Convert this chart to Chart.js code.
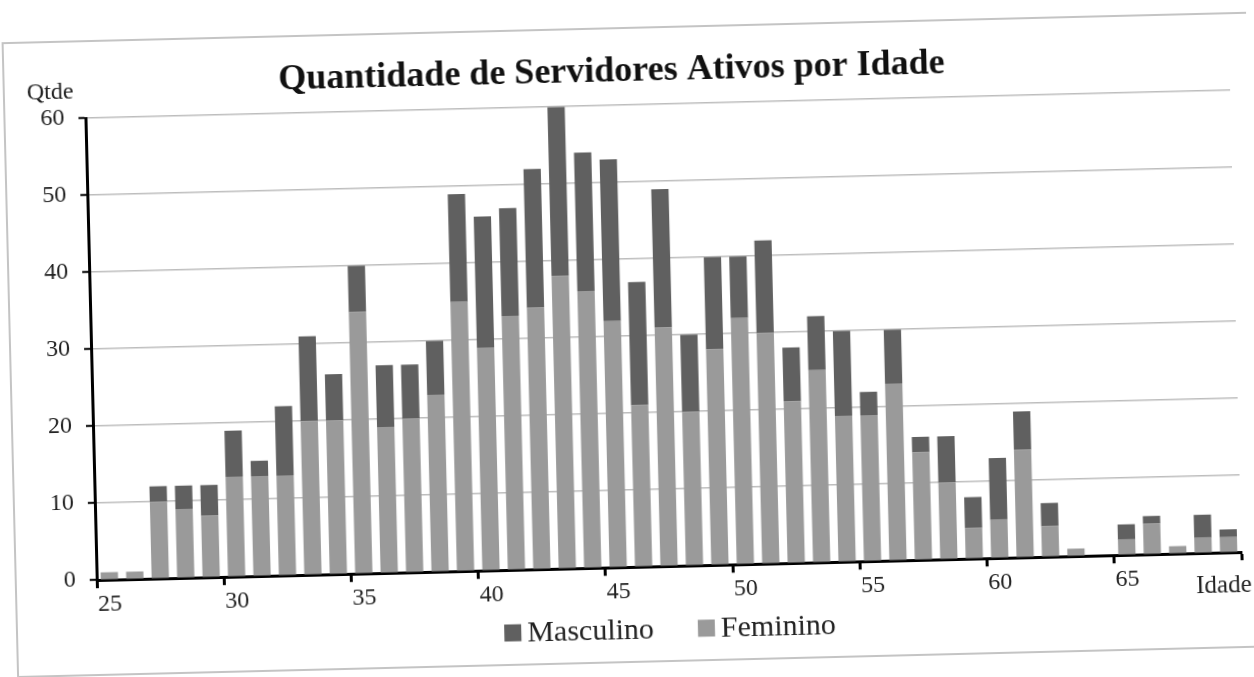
<!DOCTYPE html>
<html>
<head>
<meta charset="utf-8">
<script src="https://cdn.jsdelivr.net/npm/chart.js@4.4.1/dist/chart.umd.min.js"></script>
<style>
  html, body { margin: 0; padding: 0; background: #fff; overflow: hidden; }
  #wrap { width: 1254px; height: 677px; transform: rotate(-1.4deg); transform-origin: 50% 50%; }
</style>
</head>
<body>
<div id="wrap"><canvas id="myChart" width="1254" height="677"></canvas></div>
<script>
(() => {
  'use strict'

  // Idade 25..69
  const ages = [25, 26, 27, 28, 29, 30, 31, 32, 33, 34, 35, 36, 37, 38, 39,
                40, 41, 42, 43, 44, 45, 46, 47, 48, 49, 50, 51, 52, 53, 54,
                55, 56, 57, 58, 59, 60, 61, 62, 63, 64, 65, 66, 67, 68, 69];
  const feminino = [1, 1, 10, 9, 8, 13, 13, 13, 20, 20, 34, 19, 20, 23, 35,
                    29, 33, 34, 38, 36, 32, 21, 31, 20, 28, 32, 30, 21, 25, 19,
                    19, 23, 14, 10, 4, 5, 14, 4, 1, 0, 2, 4, 1, 2, 2];
  const masculino = [0, 0, 2, 3, 4, 6, 2, 9, 11, 6, 6, 8, 7, 7, 14,
                     17, 14, 18, 22, 18, 21, 16, 18, 10, 12, 8, 12, 7, 7, 11,
                     3, 7, 2, 6, 4, 8, 5, 3, 0, 0, 2, 1, 0, 3, 1];
  const yTicks = [0, 10, 20, 30, 40, 50, 60];

  const serif = '"Liberation Serif", "Times New Roman", serif';

  // frame, legend, "Qtde" and "Idade" labels
  const extras = {
    id: 'extras',
    beforeDraw(chart) {
      const c = chart.ctx;
      c.save();
      c.fillStyle = '#fff';
      c.fillRect(0, 0, chart.width, chart.height);
      c.strokeStyle = '#c4c4c4';
      c.lineWidth = 2;
      c.strokeRect(10, 28, 1262, 634);
      c.restore();
    },
    afterDraw(chart) {
      const c = chart.ctx;
      const a = chart.chartArea;
      c.save();
      c.fillStyle = '#222';
      c.font = '24px ' + serif;
      c.textBaseline = 'middle';
      c.textAlign = 'left';
      c.fillText('Qtde', 33, a.top - 26);
      c.font = '25px ' + serif;
      c.fillText('Idade', a.right - 46, a.bottom + 33);

      // legend: Masculino first, then Feminino
      const items = chart.data.datasets.slice().reverse();
      c.font = '30px ' + serif;
      const box = 17, gap = 6, space = 44;
      const widths = items.map(d => c.measureText(d.label).width);
      const total = widths.reduce((s, w) => s + box + gap + w, 0) + space * (items.length - 1);
      let x = 663 - total / 2;
      const y = 630;
      items.forEach((d, i) => {
        c.fillStyle = d.backgroundColor;
        c.fillRect(x, y - box / 2, box, box);
        c.fillStyle = '#222';
        c.fillText(d.label, x + box + gap, y + 1);
        x += box + gap + widths[i] + space;
      });
      c.restore();
    }
  };

  const ctx = document.getElementById('myChart');
  new Chart(ctx, {
    type: 'bar',
    data: {
      labels: ages,
      datasets: [{
        label: 'Feminino',
        data: feminino,
        backgroundColor: '#9a9a9a',
        barPercentage: 0.68,
        categoryPercentage: 1
      }, {
        label: 'Masculino',
        data: masculino,
        backgroundColor: '#606060',
        barPercentage: 0.68,
        categoryPercentage: 1
      }]
    },
    options: {
      responsive: false,
      devicePixelRatio: 1,
      animation: false,
      layout: { padding: { top: 50, right: 18, left: 0, bottom: 69 } },
      plugins: {
        title: {
          display: true,
          text: 'Quantidade de Servidores Ativos por Idade',
          color: '#111',
          font: { family: serif, size: 36, weight: 'bold' },
          padding: { top: 0, bottom: 12 }
        },
        legend: { display: false },
        tooltip: { enabled: false }
      },
      scales: {
        x: {
          stacked: true,
          border: { color: '#000', width: 3 },
          grid: {
            offset: true,
            drawOnChartArea: false,
            drawTicks: true,
            tickLength: 8,
            tickWidth: 3,
            tickColor: c => (c.type !== 'tick' || c.index % 5 === 0) ? '#000' : 'rgba(0,0,0,0)'
          },
          ticks: {
            autoSkip: false,
            maxRotation: 0,
            padding: 2,
            color: '#222',
            font: { family: serif, size: 24 },
            callback: (v, i) => (ages[i] % 5 === 0 ? String(ages[i]) : '')
          }
        },
        y: {
          stacked: true,
          min: 0,
          max: 60,
          afterFit: s => { s.width = 91; },
          afterBuildTicks: s => { s.ticks = yTicks.map(v => ({ value: v })); },
          border: { color: '#000', width: 3 },
          grid: {
            color: '#bdbdbd',
            lineWidth: 1.5,
            tickColor: '#000',
            tickLength: 7,
            tickWidth: 2
          },
          ticks: {
            padding: 14,
            color: '#222',
            font: { family: serif, size: 24 }
          }
        }
      }
    },
    plugins: [extras]
  });
})();
</script>
</body>
</html>
